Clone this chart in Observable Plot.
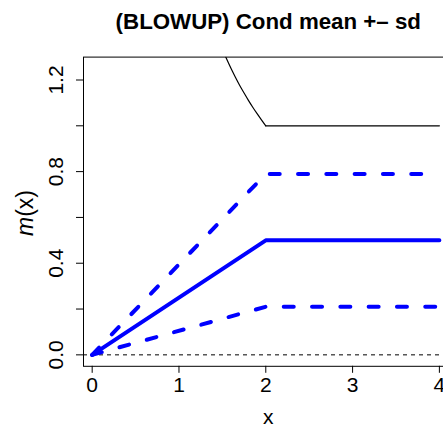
<!DOCTYPE html>
<html><head><meta charset="utf-8">
<script src="https://cdn.jsdelivr.net/npm/d3@7"></script>
<script src="https://cdn.jsdelivr.net/npm/@observablehq/plot@0.6"></script>
<style>body{margin:0;background:#fff;overflow:hidden} svg{overflow:hidden}</style>
</head><body><div id="chart"></div>
<script>
const xVals = [0, 2, 4];
const meanVals = [0, 0.5, 0.5];
const upperVals = [0, 0.79, 0.79];
const lowerVals = [0, 0.21, 0.21];
const curveX = [1.54, 1.6, 1.65, 1.7, 1.75, 1.8, 1.85, 1.9, 1.95, 2];
const curveY = [1.299, 1.25, 1.212, 1.176, 1.143, 1.111, 1.081, 1.053, 1.026, 1.0];
const flatX = [2, 4];
const flatY = [1.0, 1.0];
const xTicks = [0, 1, 2, 3, 4];
const yTicks = [0, 0.2, 0.4, 0.6, 0.8, 1.0, 1.2];
const yLabels = [0, 0.4, 0.8, 1.2];
const title = "(BLOWUP) Cond mean +\u2013 sd";

const toRows = (xs, ys) => xs.map((x, i) => ({x, y: ys[i]}));
const font = '"Liberation Sans", Arial, Helvetica, sans-serif';
const blue = "#0000ff";

const chart = Plot.plot({
  width: 443, height: 428,
  marginLeft: 83, marginRight: -9.6, marginTop: 56.6, marginBottom: 62.2,
  style: {fontFamily: font, fontSize: "21px", background: "white", overflow: "hidden", color: "black"},
  x: {domain: [-0.1, 4.158]},
  y: {domain: [-0.05, 1.30]},
  marks: [
    Plot.ruleY([0], {stroke: "black", strokeWidth: 1, strokeDasharray: "4,4"}),
    Plot.line(toRows(curveX, curveY), {x: "x", y: "y", stroke: "black", strokeWidth: 1.2, curve: "monotone-x", clip: true}),
    Plot.line(toRows(flatX, flatY), {x: "x", y: "y", stroke: "black", strokeWidth: 1.2}),
    Plot.line(toRows(xVals, upperVals), {x: "x", y: "y", stroke: blue, strokeWidth: 4, strokeDasharray: "10,18.3", strokeLinecap: "round"}),
    Plot.line(toRows(xVals, lowerVals), {x: "x", y: "y", stroke: blue, strokeWidth: 4, strokeDasharray: "10,18.3", strokeLinecap: "round"}),
    Plot.line(toRows(xVals, meanVals), {x: "x", y: "y", stroke: blue, strokeWidth: 4}),
    Plot.frame({stroke: "black", strokeWidth: 1}),
    Plot.axisX({ticks: xTicks, tickSize: 7, tickPadding: 4, tickFormat: d => String(d), fontSize: 21, label: null}),
    Plot.axisY({ticks: yTicks, tickSize: 7, tickFormat: () => "", label: null}),
    Plot.text(yLabels, {y: d => d, text: d => d.toFixed(1), frameAnchor: "left", textAnchor: "middle", lineAnchor: "middle", dx: -27, rotate: -90, fontSize: 21}),
    Plot.text([title], {frameAnchor: "top", textAnchor: "middle", lineAnchor: "middle", dy: -35.5, fontWeight: "bold", fontSize: 22.3}),
    Plot.text(["x"], {frameAnchor: "bottom", textAnchor: "middle", lineAnchor: "middle", dy: 50.5, fontSize: 21})
  ]
});

const svg = d3.select(chart);
const lab = svg.append("text")
  .attr("transform", "translate(33,213) rotate(-90)")
  .attr("text-anchor", "middle")
  .attr("font-family", font)
  .attr("font-size", 23)
  .attr("fill", "black");
lab.append("tspan").attr("font-style", "italic").text("m");
lab.append("tspan").text("(x)");

document.getElementById("chart").appendChild(chart);
</script>
</body></html>
